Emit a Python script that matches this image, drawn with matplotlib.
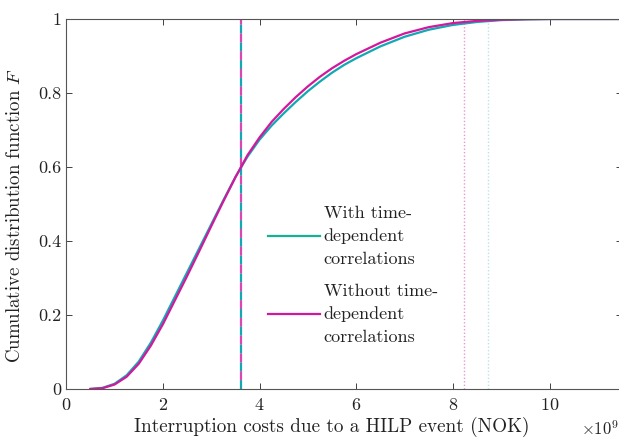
"""CDF of interruption costs, with and without time-dependent correlations."""

import matplotlib
matplotlib.use("Agg")
import matplotlib.pyplot as plt

plt.rcParams["font.family"] = "serif"
plt.rcParams["font.serif"] = ["cmr10"]
plt.rcParams["mathtext.fontset"] = "cm"
plt.rcParams["axes.formatter.use_mathtext"] = True

CYAN = "#12A8B4"
MAGENTA = "#D2189C"
AXIS_GREY = "#555555"
TEXT = "#222222"

# costs in units of 1e9 NOK
cost_with = [0.5, 0.75, 1.0, 1.25, 1.5, 1.75, 2.0, 2.25, 2.5, 2.75, 3.0, 3.25, 3.5,
             3.75, 4.0, 4.25, 4.5, 4.75, 5.0, 5.25, 5.5, 5.75, 6.0, 6.5, 7.0, 7.5,
             8.0, 8.5, 9.0, 9.5, 10.0, 11.5]
cdf_with = [0.0, 0.003, 0.014, 0.037, 0.074, 0.125, 0.185, 0.25, 0.315, 0.38, 0.445, 0.51, 0.573,
            0.628, 0.674, 0.712, 0.745, 0.776, 0.805, 0.831, 0.855, 0.876, 0.894, 0.926, 0.952, 0.971,
            0.984, 0.992, 0.997, 0.999, 1.0, 1.0]

cost_without = cost_with
cdf_without = [0.0, 0.002, 0.012, 0.033, 0.068, 0.117, 0.175, 0.24, 0.305, 0.372, 0.44, 0.507, 0.572,
               0.632, 0.68, 0.722, 0.757, 0.789, 0.818, 0.844, 0.867, 0.887, 0.905, 0.936, 0.961, 0.978,
               0.989, 0.995, 0.998, 0.9995, 1.0, 1.0]

# expected value and high quantile markers
mean_with, mean_without = 3.62, 3.62
q_with, q_without = 8.72, 8.22

labels = ["With time-\ndependent\ncorrelations", "Without time-\ndependent\ncorrelations"]

fig = plt.figure(figsize=(6.19, 4.42), dpi=100)
ax = fig.add_axes([0.107, 0.12, 0.898, 0.837])

ax.axvline(q_with, color=CYAN, lw=1.0, ls=(0, (1, 1.5)), alpha=0.3)
ax.axvline(q_without, color=MAGENTA, lw=1.0, ls=(0, (1, 1.5)), alpha=0.45)
ax.axvline(mean_with, color=CYAN, lw=1.6, ls=(0, (4, 4)))
ax.axvline(mean_without, color=MAGENTA, lw=1.6, ls=(4, (4, 4)), alpha=0.8)

ax.plot(cost_with, cdf_with, color=CYAN, lw=1.6, label=labels[0])
ax.plot(cost_without, cdf_without, color=MAGENTA, lw=1.6, label=labels[1])

ax.set_xlim(0, 11.5)
ax.set_ylim(0, 1)
ax.set_xticks([0, 2, 4, 6, 8, 10])
ax.set_yticks([0, 0.2, 0.4, 0.6, 0.8, 1])
ax.set_yticklabels(["0", "0.2", "0.4", "0.6", "0.8", "1"])
ax.tick_params(direction="in", top=True, right=True, labelsize=13, colors=TEXT,
               length=4, width=0.6)
ax.tick_params(axis="x", pad=6)
for sp in ax.spines.values():
    sp.set_color(AXIS_GREY)
    sp.set_linewidth(0.8)

ax.set_xlabel("Interruption costs due to a HILP event (NOK)", fontsize=13.8, color=TEXT)
ax.xaxis.set_label_coords(0.477, -0.075)
ax.set_ylabel(r"Cumulative distribution function $F$", fontsize=13.6, color=TEXT)
ax.yaxis.set_label_coords(-0.076, 0.47)
fig.text(0.999, 0.01, r"$\times10^9$", ha="right", va="bottom", fontsize=12, color=TEXT)

leg = ax.legend(loc="upper left", bbox_to_anchor=(0.333, 0.54), frameon=False, fontsize=13,
                handlelength=2.9, handletextpad=0.2, labelspacing=0.9)
for t in leg.get_texts():
    t.set_color(TEXT)
    t.set_linespacing(1.6)
leg.legend_handles[0].set_color("#14B294")

fig.savefig("out.png", dpi=100)
